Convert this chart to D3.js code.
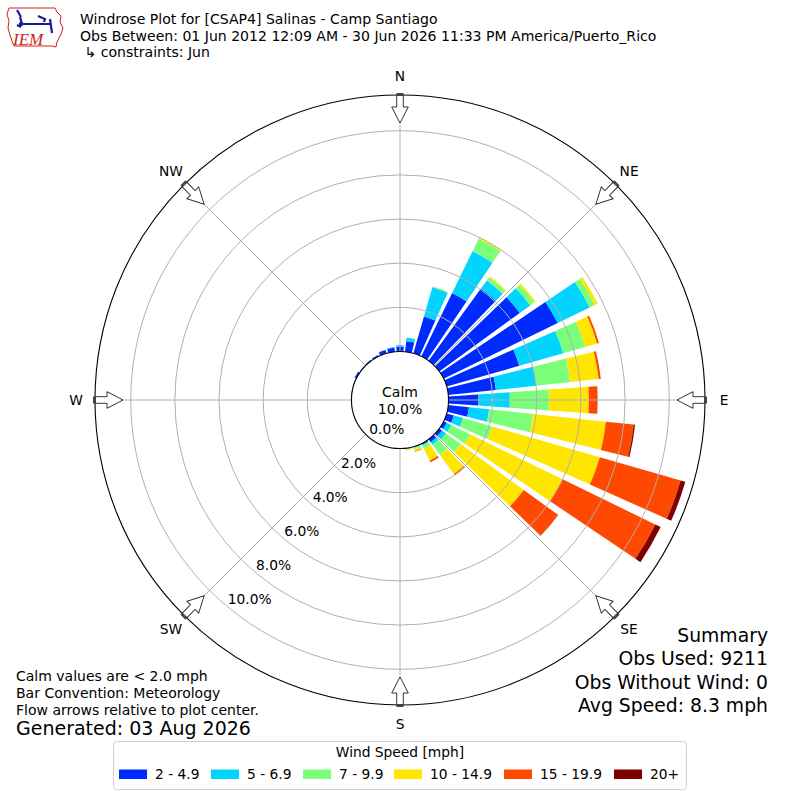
<!DOCTYPE html>
<html><head><meta charset="utf-8">
<script src="https://cdn.jsdelivr.net/npm/d3@7"></script>
<style>
html,body{margin:0;padding:0;background:#fff;}
svg{display:block;font-family:"DejaVu Sans",sans-serif;}
</style></head>
<body>
<svg id="chart" width="800" height="800"></svg>
<script>
// ---- data (percent of observations per direction & speed bin) ----
const directions = [0,10,20,30,40,50,60,70,80,90,100,110,120,130,140,150,160,170,180,190,200,210,220,230,240,250,260,270,280,290,300,310,320,330,340,350];
const speedBins = ["2 - 4.9","5 - 6.9","7 - 9.9","10 - 14.9","15 - 19.9","20+"];
const binColors = ["#002bff","#00d4ff","#7bff7b","#ffe600","#ff4800","#800000"];
const s2_4   = [0.215,0.48,1.74,3.19,4.04,4.51,5.75,3.42,2.17,1.35,0.94,0.34,0.16,0.16,0.16,0.07,0.02,0,0.01,0,0,0,0,0,0,0,0.01,0.02,0.02,0.03,0.09,0.04,0.05,0.07,0.16,0.18];
const s5_6   = [0.075,0.16,1.38,2.11,0.46,0.58,1.61,2.08,1.84,1.43,0.92,0.43,0.22,0.22,0.15,0.04,0.02,0.01,0,0,0,0,0,0,0,0,0,0,0,0,0,0,0,0,0.01,0.04];
const s7_9   = [0,0.01,0.03,0.63,0.16,0.23,0.27,1.03,1.54,1.77,2.00,1.37,0.95,0.82,0.58,0.16,0.09,0.04,0.01,0,0,0,0,0,0,0,0,0,0,0,0,0,0,0,0,0];
const s10_14 = [0,0,0.01,0.07,0.06,0.08,0.14,0.56,1.30,1.81,3.32,5.08,4.67,3.53,1.06,0.59,0.09,0.04,0,0,0,0,0,0,0,0,0,0,0,0,0,0,0,0,0,0];
const s15_19 = [0,0,0,0,0,0,0,0.09,0.10,0.40,1.27,3.81,4.67,1.92,0.08,0.08,0.02,0,0,0,0,0,0,0,0,0,0,0,0,0,0,0,0,0,0,0];
const s20p   = [0,0,0,0,0,0,0,0,0,0,0.06,0.22,0.27,0.01,0,0,0,0,0,0,0,0,0,0,0,0,0,0,0,0,0,0,0,0,0,0];
const ringTicks = [0,2,4,6,8,10];
const compassLabels = ["N","NE","E","SE","S","SW","W","NW"];
const compassAngles = [0,45,90,135,180,225,270,315];
const calmPct = "10.0%";
const titleLines = ["Windrose Plot for [CSAP4] Salinas - Camp Santiago",
  "Obs Between: 01 Jun 2012 12:09 AM - 30 Jun 2026 11:33 PM America/Puerto_Rico",
  " \u21b3 constraints: Jun"];
const noteLines = ["Calm values are < 2.0 mph","Bar Convention: Meteorology","Flow arrows relative to plot center."];
const generated = "Generated: 03 Aug 2026";
const summaryLines = ["Summary","Obs Used: 9211","Obs Without Wind: 0","Avg Speed: 8.3 mph"];

// ---- build table ----
const binSeries = [s2_4,s5_6,s7_9,s10_14,s15_19,s20p];
const table = directions.map((d,i)=>{
  const row = {dir:d};
  speedBins.forEach((b,j)=>row[b]=binSeries[j][i]);
  return row;
});
const stacked = d3.stack().keys(speedBins)(table);

const svg = d3.select("#chart");
const cx = 400, cy = 400;
const rScale = d3.scaleLinear().domain([0, 11.62]).range([48.55, 305]);
const rad = Math.PI/180;
const halfWidth = 4*rad;

const g = svg.append("g").attr("transform",`translate(${cx},${cy})`);

// bars
const arc = d3.arc();
stacked.forEach((layer,j)=>{
  g.append("g").selectAll("path").data(layer).join("path")
    .attr("d", d=>{
      if (d[1]-d[0] <= 0) return null;
      const a = d.data.dir*rad;
      return arc({innerRadius:rScale(d[0]), outerRadius:rScale(d[1]), startAngle:a-halfWidth, endAngle:a+halfWidth});
    })
    .attr("fill", binColors[j]);
});

// grid
const grid = g.append("g");
grid.selectAll("circle.ring").data(ringTicks.filter(v=>v>0)).join("circle")
  .attr("r", d=>rScale(d)).attr("fill","none").attr("stroke","#b0b0b0").attr("stroke-width",1);
grid.selectAll("line").data(compassAngles).join("line")
  .attr("x1", d=>rScale(0)*Math.sin(d*rad)).attr("y1", d=>-rScale(0)*Math.cos(d*rad))
  .attr("x2", d=>rScale.range()[1]*Math.sin(d*rad)).attr("y2", d=>-rScale.range()[1]*Math.cos(d*rad))
  .attr("stroke","#b0b0b0").attr("stroke-width",1);

// outer circle
g.append("circle").attr("r", rScale.range()[1]).attr("fill","none").attr("stroke","#000").attr("stroke-width",1.1);

// calm circle
g.append("circle").attr("r", rScale(0)).attr("fill","#fff").attr("stroke","#000").attr("stroke-width",1.1);
g.append("text").attr("x",0).attr("y",-8).attr("text-anchor","middle").attr("dominant-baseline","central")
  .attr("font-size",14).text("Calm");
g.append("text").attr("x",0).attr("y",9).attr("text-anchor","middle").attr("dominant-baseline","central")
  .attr("font-size",14).text(calmPct);

// radial labels
const labAng = 219.9*rad;
g.selectAll("text.rl").data(ringTicks).join("text").attr("class","rl")
  .attr("x", d=>rScale(d)*Math.sin(labAng)+0.4)
  .attr("y", d=>-rScale(d)*Math.cos(labAng)-8)
  .attr("dominant-baseline","central").attr("font-size",13.8)
  .text(d=>d.toFixed(1)+"%");

// arrows
const R0 = 306, L = 29;
const arrowPts = [[0,-3.3],[13,-3.3],[13,-8.3],[L,0],[13,8.3],[13,3.3],[0,3.3]]
  .map(([t,s])=>[s, -(R0-t)]);
g.selectAll("polygon.arrow").data(compassAngles).join("polygon")
  .attr("points", arrowPts.map(p=>p.join(",")).join(" "))
  .attr("transform", d=>`rotate(${d})`)
  .attr("fill","#fff").attr("stroke","#333").attr("stroke-width",1);
g.selectAll("rect.arrowback").data(compassAngles).join("rect")
  .attr("x",-3.3).attr("y",-R0-1).attr("width",6.6).attr("height",3)
  .attr("transform", d=>`rotate(${d})`).attr("fill","#444");

// compass labels
g.selectAll("text.cl").data(compassAngles).join("text")
  .attr("x", d=>324*Math.sin(d*rad)).attr("y", d=>-324*Math.cos(d*rad))
  .attr("text-anchor","middle").attr("dominant-baseline","central").attr("font-size",13.8)
  .text((d,i)=>compassLabels[i]);

// title
svg.selectAll("text.title").data(titleLines).join("text")
  .attr("x",80).attr("y",(d,i)=>24+i*16.5).attr("font-size",14.05)
  .attr("xml:space","preserve").style("white-space","pre").text(d=>d);

// notes
svg.selectAll("text.note").data(noteLines).join("text")
  .attr("x",16).attr("y",(d,i)=>681+i*17).attr("font-size",14).text(d=>d);
svg.append("text").attr("x",16).attr("y",735).attr("font-size",19).text(generated);

// summary
svg.selectAll("text.sum").data(summaryLines).join("text")
  .attr("x",768).attr("y",(d,i)=>642+i*23.3).attr("text-anchor","end").attr("font-size",18.8).text(d=>d);

// legend
const leg = svg.append("g");
leg.append("rect").attr("x",113.5).attr("y",741.5).attr("width",573).attr("height",48).attr("rx",3)
  .attr("fill","#fff").attr("stroke","#d0d0d0").attr("stroke-width",1);
leg.append("text").attr("x",400).attr("y",752).attr("text-anchor","middle").attr("dominant-baseline","central")
  .attr("font-size",13.8).text("Wind Speed [mph]");
const legX = [119,211,303,394,504,614];
speedBins.forEach((b,j)=>{
  leg.append("rect").attr("x",legX[j]).attr("y",769.5).attr("width",28).attr("height",9.5).attr("fill",binColors[j]);
  leg.append("text").attr("x",legX[j]+36).attr("y",774).attr("dominant-baseline","central")
    .attr("font-size",13.8).text(b);
});

// logo
const logo = svg.append("g");
logo.append("path").attr("d","M9,8 L55,8 L57,12 L61,16 L60,22 L63,28 L61,34 L59,38 L57,42 L56,47 L52,46 L14,46 L12,41 L10,35 L8,28 L9,21 L7,14 Z")
  .attr("fill","none").attr("stroke","#d02020").attr("stroke-width",1);
logo.append("path").attr("d","M17,10 L21,17 M20,17 L22,24 M21,24 L50,24 M38,16 L45,19 L44,22 M50,19 L52,33 M17,25 L21,27")
  .attr("fill","none").attr("stroke","#1a1aa0").attr("stroke-width",2.2);
logo.append("circle").attr("cx",21).attr("cy",24).attr("r",2.2).attr("fill","#1a1aa0");
logo.append("text").attr("x",13).attr("y",45).attr("font-family","'Liberation Serif',serif").attr("font-style","italic")
  .attr("font-size",17).attr("fill","#d02020").text("IEM");
</script>
</body></html>
